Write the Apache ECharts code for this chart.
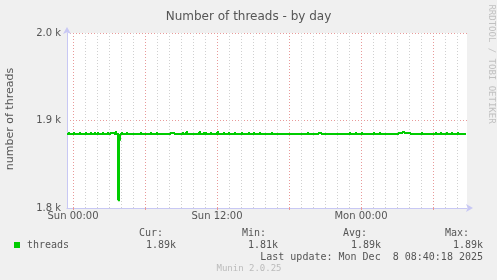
<!DOCTYPE html>
<html><head><meta charset="utf-8">
<script src="https://cdn.jsdelivr.net/npm/echarts@6/dist/echarts.min.js"></script>
<style>html,body{margin:0;padding:0;background:#f0f0f0}#c{width:497px;height:280px}</style>
</head><body><div id="c"></div>
<script>
// Time in minutes relative to Sun 00:00 (5-minute samples); value holds until next point
const sampleMinutes = [-30,-25,-20,0,5,30,35,60,65,85,90,105,110,120,125,145,150,170,175,
  185,205,210,215,225,230,235,240,245,265,270,335,340,385,390,415,420,485,505,545,550,
  565,570,630,635,650,655,660,665,685,690,720,725,750,755,775,780,805,810,840,845,875,880,
  900,905,930,935,990,995,1170,1175,1225,1240,1380,1385,1410,1415,1440,1445,1500,1505,
  1530,1535,1625,1645,1655,1685,1740,1745,1810,1815,1835,1840,1865,1870,1890,1895,1920,1925,1965];
const threads = [1884.6,1885.7,1884.6,1885.7,1884.6,1885.7,1884.6,1885.7,1884.6,1885.7,1884.6,1885.7,1884.6,1885.7,1884.6,1885.7,1884.6,1885.7,1884.6,
  1885.7,1884.6,1886.9,1884.6,1809,1878,1884.6,1885.7,1884.6,1885.7,1884.6,1885.7,1884.6,1885.7,1884.6,1885.7,1884.6,1885.7,1884.6,1885.7,1884.6,
  1886.9,1884.6,1886.9,1884.6,1885.7,1884.6,1885.7,1884.6,1885.7,1884.6,1886.9,1884.6,1885.7,1884.6,1885.7,1884.6,1885.7,1884.6,1885.7,1884.6,1885.7,1884.6,
  1885.7,1884.6,1885.7,1884.6,1885.7,1884.6,1885.7,1884.6,1885.7,1884.6,1885.7,1884.6,1885.7,1884.6,1885.7,1884.6,1885.7,1884.6,
  1885.7,1884.6,1885.7,1886.9,1885.7,1884.6,1885.7,1884.6,1885.7,1884.6,1885.7,1884.6,1885.7,1884.6,1885.7,1884.6,1885.7,1884.6,1884.6];
const xLabelMinutes = [0, 720, 1440];
const xLabels = ['Sun 00:00', 'Sun 12:00', 'Mon 00:00'];
const majorGridMinutes = [0, 360, 720, 1080, 1440, 1800];
const minorGridMinutes = [60,120,180,240,300,420,480,540,600,660,780,840,900,960,1020,
  1140,1200,1260,1320,1380,1500,1560,1620,1680,1740,1860,1920];
const yTicks = [1800, 1900, 2000];
const legendStats = {cur: '1.89k', min: '1.81k', avg: '1.89k', max: '1.89k'};

const chart = echarts.init(document.getElementById('c'), null, {renderer: 'canvas'});
const axisCol = '#c8c8f4';
const txt = '#555555';
const red = '#e89a9a';
const green = '#00cc00';
const mono = '"DejaVu Sans Mono", monospace';
const sans = '"DejaVu Sans", sans-serif';
// each step: [time, value, nextTime, nextValue]
const steps = [];
for (let i = 0; i < sampleMinutes.length - 1; i++) {
  steps.push([sampleMinutes[i], threads[i], sampleMinutes[i + 1], threads[i + 1]]);
}
const t = (x, y, s, o) => ({type: 'text', x, y, silent: true, style: Object.assign({text: s, fill: txt, font: '10px ' + mono, textVerticalAlign: 'middle'}, o || {})});
const gridLines = minorGridMinutes.map(m => ({xAxis: m, lineStyle: {color: '#d0d0d0', width: 1, type: [1, 2]}}))
  .concat(majorGridMinutes.map(m => ({xAxis: m, lineStyle: {color: red, width: 1, type: [1, 2]}})));

chart.setOption({
  animation: false,
  backgroundColor: '#f0f0f0',
  title: {text: 'Number of threads - by day', left: 'center', top: 6,
    textStyle: {fontFamily: sans, fontSize: 12, fontWeight: 'normal', color: txt}},
  grid: {left: 67, right: 30, top: 33, bottom: 72, show: true, backgroundColor: '#ffffff', borderWidth: 0},
  xAxis: {type: 'value', min: -30, max: 1970,
    axisLine: {show: true, onZero: false, lineStyle: {color: axisCol, width: 1}, symbol: ['none', 'arrow'], symbolSize: [6, 7], symbolOffset: [0, 6]},
    axisTick: {show: true, length: 2, lineStyle: {color: red}, customValues: majorGridMinutes},
    axisLabel: {customValues: xLabelMinutes, color: txt, fontFamily: sans, fontSize: 10, margin: 3,
      formatter: v => xLabels[xLabelMinutes.indexOf(v)]},
    splitLine: {show: false}},
  yAxis: {type: 'value', min: 1800, max: 2000, interval: 100,
    axisLine: {show: true, onZero: false, lineStyle: {color: axisCol, width: 1}, symbol: ['none', 'arrow'], symbolSize: [6, 7], symbolOffset: [0, 6]},
    axisTick: {show: false},
    axisLabel: {color: txt, fontFamily: sans, fontSize: 10, margin: 6,
      formatter: v => yTicks.indexOf(v) >= 0 ? (v / 1000).toFixed(1) + ' k' : ''},
    splitLine: {show: true, lineStyle: {color: red, width: 1, type: [1, 2]}}},
  series: [
    {type: 'line', data: [], silent: true, z: 1,
      markLine: {z: 1, silent: true, symbol: ['none', 'none'], label: {show: false}, animation: false, data: gridLines}},
    {type: 'custom', name: 'threads', data: steps, z: 5, silent: true,
      encode: {x: [0, 2], y: [1, 3]},
      renderItem: (params, api) => {
        const p0 = api.coord([api.value(0), api.value(1)]);
        const p1 = api.coord([api.value(2), api.value(1)]);
        const p2 = api.coord([api.value(2), api.value(3)]);
        return {type: 'polyline', shape: {points: [p0, p1, p2]},
          style: {stroke: green, lineWidth: 2, fill: null, lineJoin: 'miter'}};
      }}
  ],
  graphic: [
    {type: 'text', x: 10, y: 119, rotation: Math.PI / 2, silent: true,
      style: {text: 'number of threads', fill: txt, font: '11px ' + sans, textAlign: 'center', textVerticalAlign: 'middle'}},
    {type: 'text', x: 491, y: 64, rotation: -Math.PI / 2, silent: true,
      style: {text: 'RRDTOOL / TOBI OETIKER', fill: '#c0c0c0', font: '9px ' + mono, textAlign: 'center', textVerticalAlign: 'middle'}},
    {type: 'rect', silent: true, shape: {x: 14, y: 242, width: 6, height: 6}, style: {fill: green}},
    t(27, 245, 'threads'),
    t(163, 233, 'Cur:', {textAlign: 'right'}),
    t(266, 233, 'Min:', {textAlign: 'right'}),
    t(367, 233, 'Avg:', {textAlign: 'right'}),
    t(469, 233, 'Max:', {textAlign: 'right'}),
    t(176, 245, legendStats.cur, {textAlign: 'right'}),
    t(278, 245, legendStats.min, {textAlign: 'right'}),
    t(381, 245, legendStats.avg, {textAlign: 'right'}),
    t(483, 245, legendStats.max, {textAlign: 'right'}),
    t(483, 257, 'Last update: Mon Dec  8 08:40:18 2025', {textAlign: 'right'}),
    t(249, 269, 'Munin 2.0.25', {textAlign: 'center', fill: '#bbbbbb', font: '9px ' + mono})
  ]
});
</script></body></html>
